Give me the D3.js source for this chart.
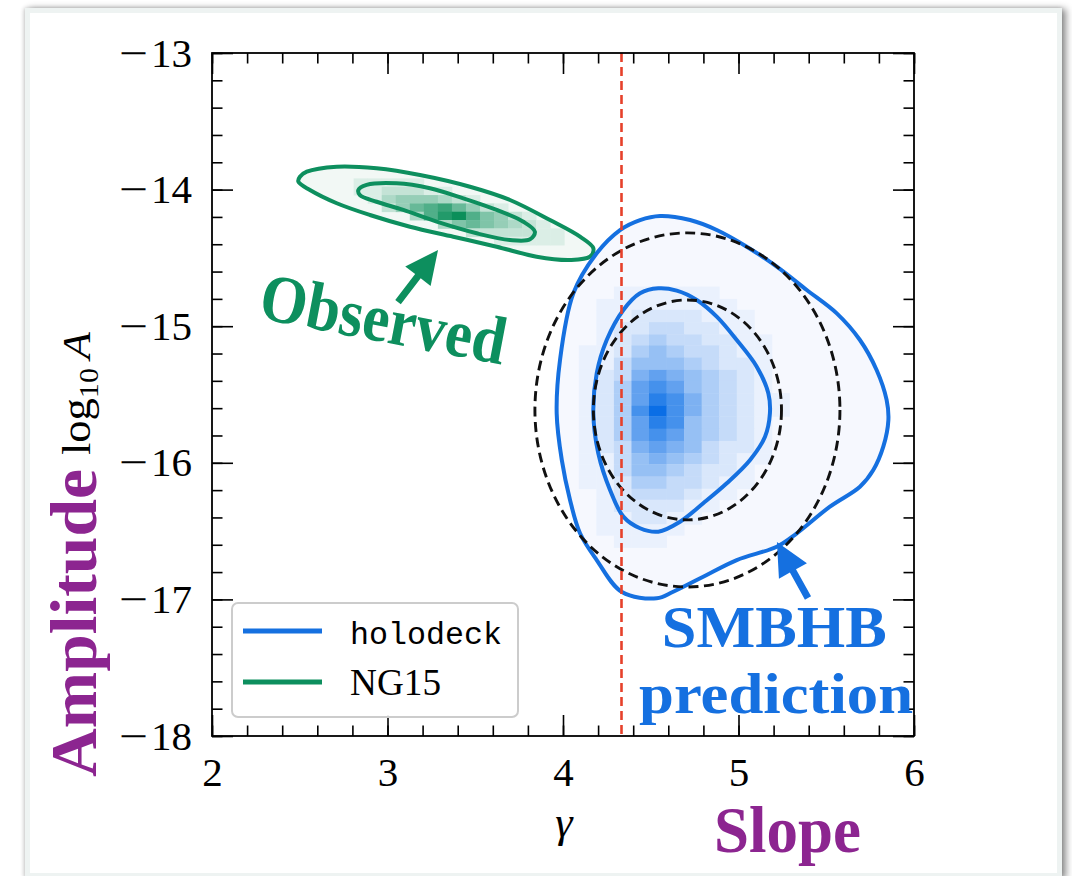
<!DOCTYPE html>
<html>
<head>
<meta charset="utf-8">
<script src="https://cdn.jsdelivr.net/npm/d3@7"></script>
<style>
  html, body { margin: 0; padding: 0; background: #fff; width: 1072px; height: 876px; overflow: hidden; }
  #card { position: absolute; left: 25px; top: 8px; width: 1027px; height: 860px;
          border: 5px solid #eef3f2; background: #fff;
          box-shadow: 4px 1px 7px rgba(0,0,0,0.45), -1px 0 4px rgba(0,0,0,0.18); }
  svg { position: absolute; left: 0; top: 0; }
</style>
</head>
<body>
<div id="card"></div>
<svg id="chart" width="1072" height="876"></svg>
<script>
// ---- axes ----
const gammaDomain = [2, 6];
const logADomain = [-18, -13];
const xMajorTicks = [2, 3, 4, 5, 6];
const yMajorTicks = [-18, -17, -16, -15, -14, -13];
const gammaGWB = 13 / 3;   // expected slope for circular, GW-driven binaries

// ---- NG15 posterior (gamma, log10 A) ----
const ng15Outer = [
  [2.501, -13.906], [2.540, -13.869], [2.711, -13.832], [2.938, -13.844], [3.185, -13.893],
  [3.470, -13.979], [3.698, -14.076], [3.926, -14.223], [4.097, -14.345], [4.173, -14.430],
  [4.154, -14.491], [4.040, -14.515], [3.850, -14.491], [3.622, -14.418], [3.375, -14.345],
  [3.128, -14.272], [2.900, -14.186], [2.711, -14.100], [2.558, -14.003], [2.492, -13.942]
];
const ng15Inner = [
  [2.834, -14.003], [2.881, -13.966], [3.052, -13.954], [3.242, -13.990], [3.432, -14.064],
  [3.622, -14.149], [3.774, -14.235], [3.840, -14.308], [3.812, -14.364], [3.698, -14.369],
  [3.508, -14.320], [3.280, -14.235], [3.090, -14.149], [2.938, -14.089], [2.843, -14.040]
];
const ng15GammaEdges = [2.647, 2.727, 2.807, 2.887, 2.967, 3.047, 3.127, 3.207, 3.287, 3.367,
                        3.447, 3.527, 3.607, 3.687, 3.767, 3.847, 3.927, 4.007, 4.087];
const ng15LogAEdges = [-13.918, -13.979, -14.040, -14.101, -14.162, -14.223, -14.284, -14.345, -14.406];
const ng15Hist = [
  [0,0,1,1,1,1,1,0,0,0,0,0,0,0,0,0,0,0],
  [0,0,1,1,2,2,2,1,1,0,0,0,0,0,0,0,0,0],
  [0,0,0,1,3,4,4,4,3,2,1,0,0,0,0,0,0,0],
  [0,0,0,0,2,4,6,7,8,6,4,2,1,0,0,0,0,0],
  [0,0,0,0,0,0,3,7,9,10,7,5,4,2,1,0,0,0],
  [0,0,0,0,0,0,0,0,3,5,6,5,4,3,2,1,0,0],
  [0,0,0,0,0,0,0,0,0,0,2,2,2,2,2,1,1,0],
  [0,0,0,0,0,0,0,0,0,0,0,0,1,1,1,1,1,0]
];

// ---- holodeck SMBHB population prediction ----
const holoOuter = [
  [4.553, -14.193], [4.724, -14.223], [4.876, -14.296], [5.047, -14.418], [5.218, -14.564],
  [5.389, -14.735], [5.560, -14.906], [5.692, -15.101], [5.787, -15.321], [5.844, -15.540],
  [5.854, -15.687], [5.825, -15.882], [5.768, -16.053], [5.692, -16.175], [5.521, -16.321],
  [5.332, -16.516], [5.218, -16.614], [4.990, -16.712], [4.799, -16.834], [4.628, -16.944],
  [4.534, -16.992], [4.336, -16.946], [4.192, -16.712], [4.097, -16.516], [4.040, -16.272],
  [3.993, -15.979], [3.964, -15.638], [3.983, -15.247], [4.059, -14.759], [4.192, -14.466],
  [4.325, -14.296], [4.439, -14.223]
];
const holoInner = [
  [4.543, -14.723], [4.648, -14.740], [4.762, -14.808], [4.876, -14.930], [4.990, -15.101],
  [5.104, -15.296], [5.170, -15.491], [5.179, -15.638], [5.151, -15.809], [5.066, -15.979],
  [4.933, -16.150], [4.799, -16.296], [4.667, -16.431], [4.543, -16.504], [4.439, -16.479],
  [4.344, -16.394], [4.268, -16.199], [4.201, -15.930], [4.173, -15.638], [4.192, -15.345],
  [4.249, -15.101], [4.344, -14.881], [4.439, -14.759]
];
const holoGammaEdges = [4.09, 4.19, 4.29, 4.39, 4.49, 4.59, 4.69, 4.79, 4.89, 4.99, 5.09, 5.19, 5.29];
const holoLogAEdges = [-14.71, -14.80, -14.88, -14.97, -15.06, -15.14, -15.23, -15.32, -15.40, -15.49,
                       -15.58, -15.66, -15.75, -15.84, -15.93, -16.01, -16.10, -16.19, -16.27, -16.36,
                       -16.45, -16.53, -16.62];
const holoHist = [
  [0,0,1,1,1,1,1,1,0,0,0,0],
  [0,1,1,1,1,1,1,1,1,0,0,0],
  [0,1,1,2,2,2,2,1,1,1,0,0],
  [0,1,2,2,3,3,2,2,1,1,0,0],
  [0,1,2,3,4,3,3,2,2,1,1,0],
  [1,1,2,4,5,4,3,3,2,1,1,0],
  [1,1,3,5,5,5,4,3,2,2,1,0],
  [1,2,3,6,7,6,5,4,3,2,1,0],
  [1,2,4,7,8,7,5,4,3,2,1,0],
  [1,2,4,7,9,8,6,4,3,2,1,1],
  [1,2,4,8,10,8,6,4,3,2,1,1],
  [1,2,4,7,9,8,5,4,3,2,1,0],
  [1,2,4,7,8,7,5,4,3,2,1,0],
  [1,2,3,6,7,6,5,3,2,2,1,0],
  [1,1,3,5,6,5,4,3,2,1,1,0],
  [1,1,3,5,5,4,3,2,2,1,0,0],
  [1,1,2,4,4,3,3,2,1,1,0,0],
  [0,1,2,3,3,3,2,1,1,0,0,0],
  [0,1,2,2,2,2,1,1,0,0,0,0],
  [0,1,1,2,2,1,1,0,0,0,0,0],
  [0,1,1,1,1,1,0,0,0,0,0,0],
  [0,0,1,1,1,0,0,0,0,0,0,0]
];

// Gaussian fit to the prediction: centre and 1/2-sigma semi-axes (gamma, log10 A)
const fitCenter = [4.709, -15.613];
const fitRadii = [[0.536, 0.805], [0.869, 1.296]];

// ---- annotations (data coordinates) ----
const observedArrow = [[3.060, -14.823], [3.288, -14.442]];
const smbhbArrow = [[5.396, -16.990], [5.219, -16.580]];
const observedLabel = [2.256, -14.940];
const smbhbLabel = [5.204, -17.346];
const predictionLabel = [5.214, -17.832];

const legendItems = [
  { label: "holodeck", color: "#1570e0", mono: true },
  { label: "NG15", color: "#0d8f5e", mono: false }
];

// ---- colours and fonts ----
const blue = "#1570e0", green = "#0d8f5e", purple = "#8c2590", red = "#e6412b";
const SERIF = "Liberation Serif";
const MONO = "Liberation Mono";

// ---- scales ----
const x = d3.scaleLinear().domain(gammaDomain).range([212, 914]);
const y = d3.scaleLinear().domain(logADomain).range([736, 53]);

const svg = d3.select("#chart");

const plot = svg.append("g");
plot.append("clipPath").attr("id", "plotclip")
  .append("rect").attr("x", 212).attr("y", 53).attr("width", 702).attr("height", 683);
const inner = plot.append("g").attr("clip-path", "url(#plotclip)");

const closed = d3.line().x(d => x(d[0])).y(d => y(d[1]))
  .curve(d3.curveCatmullRomClosed.alpha(0.5));

// faint fill inside the outer contours
inner.append("path").attr("d", closed(ng15Outer)).attr("fill", "#f2f8f5");
inner.append("path").attr("d", closed(holoOuter)).attr("fill", "#f6f8fe");

// 2D histograms
function histCells(gEdges, aEdges, counts, lo, hi, expo) {
  const col = d3.scalePow().exponent(expo).domain([0, 10]).range([lo, hi]).interpolate(d3.interpolateRgb);
  const cells = [];
  counts.forEach((row, i) => row.forEach((v, j) => {
    if (v > 0) cells.push({ g0: gEdges[j], g1: gEdges[j + 1], a0: aEdges[i], a1: aEdges[i + 1], v });
  }));
  inner.append("g").selectAll("rect").data(cells).join("rect")
    .attr("x", d => x(d.g0))
    .attr("y", d => y(d.a0))
    .attr("width", d => x(d.g1) - x(d.g0) + 0.4)
    .attr("height", d => y(d.a1) - y(d.a0) + 0.4)
    .attr("fill", d => col(d.v));
}
histCells(ng15GammaEdges, ng15LogAEdges, ng15Hist, "#f2f8f5", "#0b8f5a", 1.0);
histCells(holoGammaEdges, holoLogAEdges, holoHist, "#f6f8fe", "#0a6ee6", 1.3);

// contour lines
[ng15Outer, ng15Inner].forEach(c =>
  inner.append("path").attr("d", closed(c)).attr("fill", "none")
    .attr("stroke", green).attr("stroke-width", 4).attr("stroke-linejoin", "round"));
[holoOuter, holoInner].forEach(c =>
  inner.append("path").attr("d", closed(c)).attr("fill", "none")
    .attr("stroke", blue).attr("stroke-width", 4).attr("stroke-linejoin", "round"));

// Gaussian fit ellipses
inner.selectAll("ellipse.fit").data(fitRadii).join("ellipse")
  .attr("class", "fit")
  .attr("cx", x(fitCenter[0])).attr("cy", y(fitCenter[1]))
  .attr("rx", d => x(fitCenter[0] + d[0]) - x(fitCenter[0]))
  .attr("ry", d => y(fitCenter[1] - d[1]) - y(fitCenter[1]))
  .attr("fill", "none").attr("stroke", "#111").attr("stroke-width", 2.9)
  .attr("stroke-dasharray", "10,5.5");

// gamma = 13/3 reference
inner.append("line")
  .attr("x1", x(gammaGWB)).attr("x2", x(gammaGWB))
  .attr("y1", y(logADomain[1])).attr("y2", y(logADomain[0]))
  .attr("stroke", red).attr("stroke-width", 2.6).attr("stroke-dasharray", "9,5");

// ---- ticks (inward on all four sides) ----
function styleAxis(g) {
  g.attr("font-family", SERIF);
  g.select(".domain").remove();
  g.selectAll(".tick line").attr("stroke", "#000").attr("stroke-width", 1.6);
  g.selectAll("text").attr("font-family", SERIF).attr("font-size", 41).attr("fill", "#000");
}
// negative labels: long math-style minus sign
function wideMinus(g) {
  g.selectAll(".tick text").each(function (d) {
    if (d >= 0) return;
    const t = d3.select(this).text(null);
    t.append("tspan").attr("textLength", 29).attr("lengthAdjust", "spacingAndGlyphs").text("\u2212");
    t.append("tspan").attr("dx", 3).text(Math.abs(d));
  });
}
const minorX = x.ticks(20), minorY = y.ticks(25);
const noLabel = () => "";

svg.append("g").attr("transform", "translate(0,736)")
  .call(d3.axisBottom(x).tickValues(minorX).tickSize(-10.5).tickFormat(noLabel)).call(styleAxis);
svg.append("g").attr("transform", "translate(0,736)")
  .call(d3.axisBottom(x).tickValues(xMajorTicks).tickSize(-21).tickPadding(21).tickFormat(d3.format("d")))
  .call(styleAxis);
svg.append("g").attr("transform", "translate(0,53)")
  .call(d3.axisTop(x).tickValues(minorX).tickSize(-10.5).tickFormat(noLabel)).call(styleAxis);
svg.append("g").attr("transform", "translate(0,53)")
  .call(d3.axisTop(x).tickValues(xMajorTicks).tickSize(-21).tickFormat(noLabel)).call(styleAxis);

svg.append("g").attr("transform", "translate(212,0)")
  .call(d3.axisLeft(y).tickValues(minorY).tickSize(-10.5).tickFormat(noLabel)).call(styleAxis);
svg.append("g").attr("transform", "translate(212,0)")
  .call(d3.axisLeft(y).tickValues(yMajorTicks).tickSize(-21).tickPadding(20).tickFormat(d3.format("d")))
  .call(styleAxis).call(wideMinus);
svg.append("g").attr("transform", "translate(914,0)")
  .call(d3.axisRight(y).tickValues(minorY).tickSize(-10.5).tickFormat(noLabel)).call(styleAxis);
svg.append("g").attr("transform", "translate(914,0)")
  .call(d3.axisRight(y).tickValues(yMajorTicks).tickSize(-21).tickFormat(noLabel)).call(styleAxis);

// frame
svg.append("rect").attr("x", 212).attr("y", 53).attr("width", 702).attr("height", 683)
  .attr("fill", "none").attr("stroke", "#000").attr("stroke-width", 1.8);

// ---- legend ----
const leg = svg.append("g");
leg.append("rect").attr("x", 232).attr("y", 603).attr("width", 286).attr("height", 114)
  .attr("rx", 6).attr("fill", "#fff").attr("fill-opacity", 0.9)
  .attr("stroke", "#cccccc").attr("stroke-width", 2);
legendItems.forEach((d, i) => {
  const cy = 631 + i * 51;
  leg.append("line").attr("x1", 243).attr("x2", 322).attr("y1", cy).attr("y2", cy)
    .attr("stroke", d.color).attr("stroke-width", 5);
  const t = leg.append("text").attr("x", 350).attr("y", cy + 12.5).attr("fill", "#000").text(d.label);
  if (d.mono) {
    t.attr("font-family", MONO).attr("font-size", 31)
     .attr("textLength", 152).attr("lengthAdjust", "spacingAndGlyphs");
  } else {
    t.attr("font-family", SERIF).attr("font-size", 38)
     .attr("textLength", 91).attr("lengthAdjust", "spacingAndGlyphs");
  }
});

// ---- axis titles ----
svg.append("text").attr("font-family", SERIF).attr("x", 564).attr("y", 837).attr("text-anchor", "middle")
  .attr("font-style", "italic").attr("font-size", 44)
  .text("γ");
svg.append("text").attr("font-family", SERIF).attr("x", 714).attr("y", 852)
  .attr("font-weight", "bold").attr("font-size", 66)
  .attr("fill", purple).attr("textLength", 147).attr("lengthAdjust", "spacingAndGlyphs")
  .text("Slope");

svg.append("text").attr("font-family", SERIF).attr("transform", "translate(96,777) rotate(-90)")
  .attr("font-weight", "bold").attr("font-size", 66)
  .attr("fill", purple).attr("textLength", 308).attr("lengthAdjust", "spacingAndGlyphs")
  .text("Amplitude");
const logT = svg.append("text").attr("font-family", SERIF).attr("transform", "translate(90,455) rotate(-90)")
  .attr("font-size", 40).attr("fill", "#000")
  .attr("textLength", 123).attr("lengthAdjust", "spacingAndGlyphs");
logT.append("tspan").text("log");
logT.append("tspan").attr("font-size", 27).attr("dy", 8).text("10");
logT.append("tspan").attr("dy", -8).attr("dx", 8).attr("font-style", "italic").text("A");

// ---- annotations ----
function arrow(pts, color) {
  const [t0, t1] = pts;
  const x0 = x(t0[0]), y0 = y(t0[1]), x1 = x(t1[0]), y1 = y(t1[1]);
  const L = Math.hypot(x1 - x0, y1 - y0), ux = (x1 - x0) / L, uy = (y1 - y0) / L;
  const headL = 33, headW = 16, shaftW = 3.5;
  const bx = x1 - ux * headL, by = y1 - uy * headL, px = -uy, py = ux;
  const poly = [
    [x0 + px * shaftW, y0 + py * shaftW],
    [bx + px * shaftW, by + py * shaftW],
    [bx + px * headW, by + py * headW],
    [x1, y1],
    [bx - px * headW, by - py * headW],
    [bx - px * shaftW, by - py * shaftW],
    [x0 - px * shaftW, y0 - py * shaftW]
  ];
  svg.append("path").attr("d", "M" + poly.map(p => p.join(",")).join("L") + "Z").attr("fill", color);
}
arrow(observedArrow, green);
arrow(smbhbArrow, blue);

svg.append("text").attr("font-family", SERIF)
  .attr("transform", `translate(${x(observedLabel[0])},${y(observedLabel[1])}) rotate(10.8)`)
  .attr("font-weight", "bold").attr("font-size", 68)
  .attr("fill", green).attr("textLength", 249).attr("lengthAdjust", "spacingAndGlyphs")
  .text("Observed");
svg.append("text").attr("font-family", SERIF).attr("x", x(smbhbLabel[0])).attr("y", y(smbhbLabel[1]))
  .attr("text-anchor", "middle")
  .attr("font-weight", "bold").attr("font-size", 60)
  .attr("fill", blue).attr("textLength", 225).attr("lengthAdjust", "spacingAndGlyphs")
  .text("SMBHB");
svg.append("text").attr("font-family", SERIF).attr("x", x(predictionLabel[0])).attr("y", y(predictionLabel[1]))
  .attr("text-anchor", "middle")
  .attr("font-weight", "bold").attr("font-size", 58)
  .attr("fill", blue).attr("textLength", 274).attr("lengthAdjust", "spacingAndGlyphs")
  .text("prediction");
</script>
</body>
</html>
